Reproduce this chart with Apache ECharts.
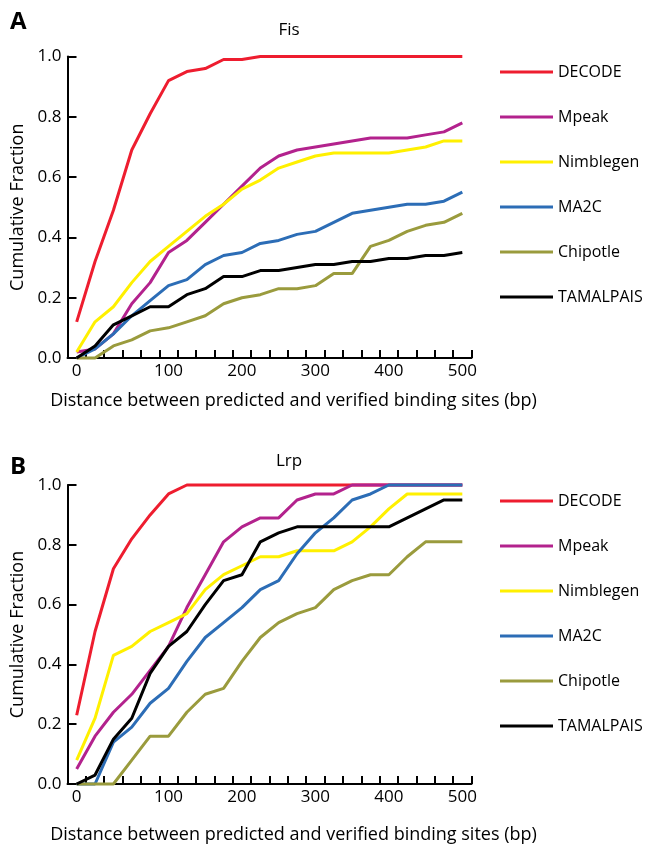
<!DOCTYPE html>
<html>
<head>
<meta charset="utf-8">
<script src="https://cdn.jsdelivr.net/npm/echarts@6/dist/echarts.min.js"></script>
<style>
html,body{margin:0;padding:0;background:#fff;}
#chart{width:650px;height:845px;}
</style>
</head>
<body>
<div id="chart"></div>
<script>
// x categories (bp) and tick labels shown
const xCats = ['0','20','40','60','80','100','125','150','175','200','225','250','275','300','325','350','375','400','425','450','475','500'];
const xLabelsShown = ['0','100','200','300','400','500'];
const yTicks = [0, 0.2, 0.4, 0.6, 0.8, 1.0];
const seriesNames = ['DECODE','Mpeak','Nimblegen','MA2C','Chipotle','TAMALPAIS'];
const seriesColors = ['#EE1D2F','#B3228D','#FFF000','#2C6DB6','#9A9B3D','#000000'];

// Panel A: Fis
const fisDECODE    = [0.12,0.32,0.49,0.69,0.81,0.92,0.95,0.96,0.99,0.99,1.00,1.00,1.00,1.00,1.00,1.00,1.00,1.00,1.00,1.00,1.00,1.00];
const fisMpeak     = [0.02,0.03,0.08,0.18,0.25,0.35,0.39,0.45,0.51,0.57,0.63,0.67,0.69,0.70,0.71,0.72,0.73,0.73,0.73,0.74,0.75,0.78];
const fisNimblegen = [0.02,0.12,0.17,0.25,0.32,0.37,0.42,0.47,0.51,0.56,0.59,0.63,0.65,0.67,0.68,0.68,0.68,0.68,0.69,0.70,0.72,0.72];
const fisMA2C      = [0.00,0.03,0.08,0.14,0.19,0.24,0.26,0.31,0.34,0.35,0.38,0.39,0.41,0.42,0.45,0.48,0.49,0.50,0.51,0.51,0.52,0.55];
const fisChipotle  = [0.00,0.00,0.04,0.06,0.09,0.10,0.12,0.14,0.18,0.20,0.21,0.23,0.23,0.24,0.28,0.28,0.37,0.39,0.42,0.44,0.45,0.48];
const fisTAMALPAIS = [0.00,0.04,0.11,0.14,0.17,0.17,0.21,0.23,0.27,0.27,0.29,0.29,0.30,0.31,0.31,0.32,0.32,0.33,0.33,0.34,0.34,0.35];

// Panel B: Lrp
const lrpDECODE    = [0.23,0.51,0.72,0.82,0.90,0.97,1.00,1.00,1.00,1.00,1.00,1.00,1.00,1.00,1.00,1.00,1.00,1.00,1.00,1.00,1.00,1.00];
const lrpMpeak     = [0.05,0.16,0.24,0.30,0.38,0.46,0.59,0.70,0.81,0.86,0.89,0.89,0.95,0.97,0.97,1.00,1.00,1.00,1.00,1.00,1.00,1.00];
const lrpNimblegen = [0.08,0.22,0.43,0.46,0.51,0.54,0.57,0.65,0.70,0.73,0.76,0.76,0.78,0.78,0.78,0.81,0.86,0.92,0.97,0.97,0.97,0.97];
const lrpMA2C      = [0.00,0.00,0.14,0.19,0.27,0.32,0.41,0.49,0.54,0.59,0.65,0.68,0.77,0.84,0.89,0.95,0.97,1.00,1.00,1.00,1.00,1.00];
const lrpChipotle  = [0.00,0.00,0.00,0.08,0.16,0.16,0.24,0.30,0.32,0.41,0.49,0.54,0.57,0.59,0.65,0.68,0.70,0.70,0.76,0.81,0.81,0.81];
const lrpTAMALPAIS = [0.00,0.03,0.15,0.22,0.37,0.46,0.51,0.60,0.68,0.70,0.81,0.84,0.86,0.86,0.86,0.86,0.86,0.86,0.89,0.92,0.95,0.95];

const fisData = [fisDECODE, fisMpeak, fisNimblegen, fisMA2C, fisChipotle, fisTAMALPAIS];
const lrpData = [lrpDECODE, lrpMpeak, lrpNimblegen, lrpMA2C, lrpChipotle, lrpTAMALPAIS];

const FONT = '"Open Sans", sans-serif';
const chart = echarts.init(document.getElementById('chart'), null, {renderer:'canvas'});

function xAxis(gridIndex, nameGap){
  return {
    type:'category', gridIndex, data:xCats, boundaryGap:true,
    name:'Distance between predicted and verified binding sites (bp)',
    nameLocation:'middle', nameGap,
    nameTextStyle:{fontFamily:FONT, fontSize:18, color:'#000', padding:[0,0,0,48]},
    axisLine:{lineStyle:{color:'#000', width:2}},
    axisTick:{show:true, inside:true, length:8, interval:0, lineStyle:{color:'#000', width:2}},
    axisLabel:{interval:(i,v)=>xLabelsShown.indexOf(v)>=0, margin:5, fontFamily:FONT, fontSize:17, color:'#000'},
    splitLine:{show:false}
  };
}
function yAxis(gridIndex){
  return {
    type:'value', gridIndex, min:yTicks[0], max:yTicks[yTicks.length-1], interval:0.2,
    name:'Cumulative Fraction', nameLocation:'middle', nameGap:37,
    nameTextStyle:{fontFamily:FONT, fontSize:18, color:'#000'},
    axisLine:{show:true, lineStyle:{color:'#000', width:2}},
    axisTick:{show:true, inside:true, length:9, lineStyle:{color:'#000', width:2}},
    axisLabel:{formatter:v=>v.toFixed(1), margin:6, fontFamily:FONT, fontSize:17, color:'#000'},
    splitLine:{show:false}
  };
}
function mkSeries(dataArr, idx){
  return dataArr.map((d,i)=>({
    type:'line', name:seriesNames[i], xAxisIndex:idx, yAxisIndex:idx,
    data:d, symbol:'none', lineStyle:{width:3, color:seriesColors[i]}, itemStyle:{color:seriesColors[i]},
    z: 2, clip:false
  }));
}
function legend(top){
  return {
    orient:'vertical', left:500, top, padding:0, itemWidth:53, itemHeight:16, itemGap:29,
    icon:'path://M0,0 L53,0 L53,3 L0,3 Z',
    textStyle:{fontFamily:FONT, fontSize:16, color:'#000', lineHeight:16},
    data:seriesNames
  };
}

chart.setOption({
  animation:false,
  backgroundColor:'#fff',
  grid:[
    {left:67.5, top:56.5, width:404, height:301.5},
    {left:67.5, top:485, width:404, height:301}
  ],
  xAxis:[xAxis(0,34), xAxis(1,42)],
  yAxis:[yAxis(0), yAxis(1)],
  legend:[legend(64), legend(493)],
  graphic:[
    {type:'text', left:10, top:10, style:{text:'A', font:'bold 24px "Open Sans", sans-serif', fill:'#000'}},
    {type:'text', left:10, top:455, style:{text:'B', font:'bold 24px "Open Sans", sans-serif', fill:'#000'}},
    {type:'text', x:289, y:30, style:{text:'Fis', font:'17px "Open Sans", sans-serif', fill:'#000', align:'center', verticalAlign:'middle'}},
    {type:'text', x:289, y:461, style:{text:'Lrp', font:'17px "Open Sans", sans-serif', fill:'#000', align:'center', verticalAlign:'middle'}}
  ],
  series:[].concat(mkSeries(fisData,0), mkSeries(lrpData,1))
});
</script>
</body>
</html>
